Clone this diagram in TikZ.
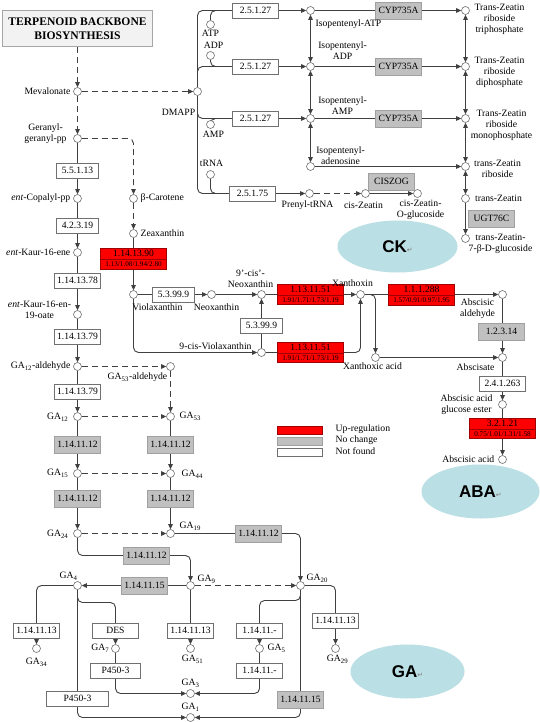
\documentclass[tikz,border=0pt]{standalone}
\usepackage{fontspec}
\setmainfont{Liberation Serif}
\newfontfamily\arialfont{Liberation Sans}
\newfontfamily\dejavu{DejaVu Sans}
\usetikzlibrary{arrows.meta,shapes.multipart,shapes.geometric}
\pgfdeclarelayer{bg}
\pgfsetlayers{bg,main}
\definecolor{lc}{HTML}{404040}
\definecolor{gbox}{HTML}{C0C0C0}
\definecolor{gbord}{HTML}{A0A0A0}
\definecolor{wbord}{HTML}{707070}
\definecolor{rfill}{HTML}{FF0000}
\definecolor{rbord}{HTML}{A00000}
\definecolor{ellc}{HTML}{BADFE4}
\newcommand{\smallred}{\fontsize{7.2}{8}\selectfont}
\newcommand{\elltxt}[1]{{\arialfont\bfseries\fontsize{17}{17}\selectfont #1}{\color{gray}\dejavu\fontsize{7}{7}\selectfont ↵}}
\tikzset{
 lbl/.style={font=\fontsize{9.7}{11}\selectfont, inner sep=1pt, align=center},
 met/.style={circle, draw=wbord, fill=white, minimum size=8pt, inner sep=0pt, line width=0.6pt},
 wbox/.style={draw=wbord, fill=white, minimum width=46pt, minimum height=15pt, inner sep=2pt, font=\fontsize{9.6}{11}\selectfont, line width=0.6pt},
 gboxs/.style={wbox, fill=gbox, draw=gbord, minimum height=17pt},
 rbox/.style={rectangle split, rectangle split parts=2, draw=rbord, fill=rfill, minimum width=66pt, inner xsep=1pt, inner ysep=2pt, font=\fontsize{9.6}{10}\selectfont, line width=0.6pt},
 ln/.style={draw=lc, line width=0.9pt},
 arr/.style={ln, -{Triangle[length=5pt,width=4.5pt]}},
 darr/.style={ln, {Triangle[length=5pt,width=4.5pt]}-{Triangle[length=5pt,width=4.5pt]}},
 dsh/.style={dash pattern=on 6pt off 4pt},
 rc/.style={rounded corners=5pt},
 ellip/.style={ellipse, fill=ellc, draw=none, inner sep=0pt},
 titlebox/.style={draw=gray!70, fill=gray!10, minimum width=150pt, minimum height=36pt, align=center, font=\bfseries\fontsize{11.6}{14}\selectfont},
 legbox/.style={minimum width=45pt, minimum height=8pt, inner sep=0pt, line width=0.6pt}
}
\begin{document}
\begin{tikzpicture}[x=1pt,y=-1pt]
\useasboundingbox (-0.5,-0.5) rectangle (539.5,721.5);
\begin{pgfonlayer}{bg}
\fill[white] (-0.5,-0.5) rectangle (539.5,721.5);
\end{pgfonlayer}

% ---------- title ----------
\node[titlebox] (tbb) at (77,28) {TERPENOID BACKBONE\\BIOSYNTHESIS};

% ---------- metabolites ----------
\node[met] (mev) at (77,91) {};
\node[met] (dmapp) at (197,91) {};
\node[met] (ggpp) at (77,138) {};
\node[met] (cop) at (77,198) {};
\node[met] (kaur) at (77,252) {};
\node[met] (kaoate) at (77,314) {};
\node[met] (ga12ald) at (77,366) {};
\node[met] (ga12) at (77,416) {};
\node[met] (ga15) at (77,473) {};
\node[met] (ga24) at (77,533) {};
\node[met] (ga53ald) at (170,366) {};
\node[met] (ga53) at (170,416) {};
\node[met] (ga44) at (170,473) {};
\node[met] (ga19) at (170,533) {};
\node[met] (ga4) at (77,585) {};
\node[met] (ga9) at (190,585) {};
\node[met] (ga20) at (300,585) {};
\node[met] (ga34) at (36,648) {};
\node[met] (ga7) at (115,648) {};
\node[met] (ga51) at (190,648) {};
\node[met] (ga5) at (259,648) {};
\node[met] (ga29) at (335,648) {};
\node[met] (ga3) at (190,693) {};
\node[met] (ga1) at (190,717) {};

\node[met] (bcar) at (133,198) {};
\node[met] (zea) at (133,233) {};
\node[met] (viol) at (133,294) {};
\node[met] (neo) at (211,294) {};
\node[met] (cneo) at (261,294) {};
\node[met] (cviol) at (261,352) {};
\node[met] (xan) at (360,294) {};
\node[met] (xacid) at (375,357) {};
\node[met] (absald) at (502,294) {};
\node[met] (absc) at (502,357) {};
\node[met] (abge) at (502,404) {};
\node[met] (aba) at (502,459) {};

\node[met] (atp) at (210,24) {};
\node[met] (adp) at (210,55) {};
\node[met] (amp) at (210,124) {};
\node[met] (trna) at (210,174) {};
\node[met] (ipatp) at (310,10) {};
\node[met] (ipadp) at (310,66) {};
\node[met] (ipamp) at (310,118) {};
\node[met] (ipado) at (310,166) {};
\node[met] (tztp) at (465,10) {};
\node[met] (tzdp) at (465,66) {};
\node[met] (tzmp) at (465,118) {};
\node[met] (tzr) at (465,166) {};
\node[met] (tz) at (465,198) {};
\node[met] (tzg) at (465,238) {};
\node[met] (ptrna) at (309,193) {};
\node[met] (cz) at (365,193) {};
\node[met] (czg) at (417,193) {};

% ---------- enzyme boxes ----------
\node[wbox] (e1) at (255,10) {2.5.1.27};
\node[wbox] (e2) at (255,66) {2.5.1.27};
\node[wbox] (e3) at (255,118) {2.5.1.27};
\node[wbox] (e4) at (252,193) {2.5.1.75};
\node[gboxs] (c1) at (398,10) {CYP735A};
\node[gboxs] (c2) at (398,66) {CYP735A};
\node[gboxs] (c3) at (398,118) {CYP735A};
\node[gboxs] (cis) at (391,181) {CISZOG};
\node[gboxs] (ugt) at (491,218) {UGT76C};

\node[wbox, minimum width=42pt] (k1) at (77,170) {5.5.1.13};
\node[wbox, minimum width=42pt] (k2) at (77,225) {4.2.3.19};
\node[wbox] (k3) at (77,280) {1.14.13.78};
\node[wbox] (k4) at (77,336) {1.14.13.79};
\node[wbox] (k5) at (77,391) {1.14.13.79};
\node[gboxs] (k6) at (77,444) {1.14.11.12};
\node[gboxs] (k7) at (170,444) {1.14.11.12};
\node[gboxs] (k8) at (77,498) {1.14.11.12};
\node[gboxs] (k9) at (170,498) {1.14.11.12};
\node[gboxs] (k10) at (258,533) {1.14.11.12};
\node[gboxs] (k11) at (146,555) {1.14.11.12};
\node[gboxs] (k12) at (144,585) {1.14.11.15};
\node[wbox] (k13) at (36,630) {1.14.11.13};
\node[wbox] (k14) at (115,630) {DES};
\node[wbox] (k15) at (190,630) {1.14.11.13};
\node[wbox] (k16) at (259,630) {1.14.11.-};
\node[wbox, minimum width=50pt] (k17) at (115,670) {P450-3};
\node[wbox] (k18) at (259,670) {1.14.11.-};
\node[wbox, minimum width=62pt] (k19) at (77,698) {P450-3};
\node[gboxs] (k20) at (300,699) {1.14.11.15};
\node[wbox] (k21) at (335,620) {1.14.11.13};

\node[rbox] (r1) at (133,258) {1.14.13.90\nodepart{two}\smallred 1.13/1.08/1.94/2.80};
\node[wbox, minimum width=42pt] (x1) at (173,294) {5.3.99.9};
\node[wbox, minimum width=42pt] (x2) at (261,325) {5.3.99.9};
\node[rbox] (r2) at (310,294) {1.13.11.51\nodepart{two}\smallred 1.91/1.71/1.73/1.19};
\node[rbox] (r3) at (310,352) {1.13.11.51\nodepart{two}\smallred 1.91/1.71/1.73/1.19};
\node[rbox] (r4) at (421,294) {1.1.1.288\nodepart{two}\smallred 1.57/0.91/0.97/1.95};
\node[gboxs] (x3) at (501,331) {1.2.3.14};
\node[wbox] (x4) at (502,383) {2.4.1.263};
\node[rbox] (r5) at (502,428) {3.2.1.21\nodepart{two}\smallred 0.75/1.01/1.31/1.58};

% ---------- ellipses ----------
\node[ellip, minimum width=120pt, minimum height=52pt] (ckell) at (397,246) {\elltxt{CK}};
\node[ellip, minimum width=118pt, minimum height=54pt] (abaell) at (480,491) {\elltxt{ABA}};
\node[ellip, minimum width=114pt, minimum height=54pt] (gaell) at (407,671) {\elltxt{GA}};

% ---------- legend ----------
\node[legbox, fill=rfill, draw=rbord] (lg1) at (299.5,430) {};
\node[legbox, fill=gbox, draw=gbord] (lg2) at (299.5,441) {};
\node[legbox, fill=white, draw=wbord] (lg3) at (299.5,451.5) {};
\node[lbl, anchor=west] (lgt1) at (334,429) {Up-regulation};
\node[lbl, anchor=west] (lgt2) at (334,440) {No change};
\node[lbl, anchor=west] (lgt3) at (334,451) {Not found};

% ---------- labels ----------
\node[lbl, anchor=east] (lmev) at (71,91) {Mevalonate};
\node[lbl] (ldmapp) at (178,112) {DMAPP};
\node[lbl] (lggpp) at (45,133) {Geranyl-\\geranyl-pp};
\node[lbl, anchor=east] (lcop) at (71,198) {\textit{ent}-Copalyl-pp};
\node[lbl, anchor=east] (lkaur) at (71,252) {\textit{ent}-Kaur-16-ene};
\node[lbl] (lkao) at (39,309) {\textit{ent}-Kaur-16-en-\\19-oate};
\node[lbl, anchor=east] (lga12a) at (71,366) {GA\textsubscript{12}-aldehyde};
\node[lbl] (lga53a) at (137,377) {GA\textsubscript{53}-aldehyde};
\node[lbl, anchor=east] (lga12) at (69,417) {GA\textsubscript{12}};
\node[lbl, anchor=west] (lga53) at (178,416) {GA\textsubscript{53}};
\node[lbl, anchor=east] (lga15) at (69,473) {GA\textsubscript{15}};
\node[lbl, anchor=west] (lga44) at (180,474) {GA\textsubscript{44}};
\node[lbl, anchor=east] (lga24) at (69,534) {GA\textsubscript{24}};
\node[lbl, anchor=west] (lga19) at (178,526) {GA\textsubscript{19}};
\node[lbl] (lga4) at (68,576) {GA\textsubscript{4}};
\node[lbl, anchor=west] (lga9) at (196,579) {GA\textsubscript{9}};
\node[lbl, anchor=west] (lga20) at (305,578) {GA\textsubscript{20}};
\node[lbl] (lga34) at (36,662) {GA\textsubscript{34}};
\node[lbl, anchor=east] (lga7) at (110,648) {GA\textsubscript{7}};
\node[lbl] (lga51) at (192,659) {GA\textsubscript{51}};
\node[lbl, anchor=west] (lga5) at (266,648) {GA\textsubscript{5}};
\node[lbl] (lga29) at (337,659) {GA\textsubscript{29}};
\node[lbl] (lga3) at (190,683) {GA\textsubscript{3}};
\node[lbl] (lga1) at (190,707) {GA\textsubscript{1}};

\node[lbl, anchor=west] (lbcar) at (139,198) {β-Carotene};
\node[lbl, anchor=west] (lzea) at (139,233) {Zeaxanthin};
\node[lbl] (lviol) at (157,307) {Violaxanthin};
\node[lbl] (lneo) at (216,307) {Neoxanthin};
\node[lbl] (lcneo) at (250,278) {9'-cis'-\\Neoxanthin};
\node[lbl] (lcviol) at (215,346) {9-cis-Violaxanthin};
\node[lbl] (lxan) at (352,283) {Xanthoxin};
\node[lbl] (lxacid) at (372,366) {Xanthoxic acid};
\node[lbl] (labsald) at (477,308) {Abscisic\\aldehyde};
\node[lbl] (labsc) at (475,367) {Abscisate};
\node[lbl] (labge) at (466,404) {Abscisic acid\\glucose ester};
\node[lbl, anchor=east] (laba) at (495,459) {Abscisic acid};

\node[lbl] (latp) at (210,33) {ATP};
\node[lbl] (ladp) at (213,45) {ADP};
\node[lbl] (lamp) at (213,134) {AMP};
\node[lbl] (ltrna) at (211,163) {tRNA};
\node[lbl] (lipatp) at (348,24) {Isopentenyl-ATP};
\node[lbl] (lipadp) at (342,50) {Isopentenyl-\\ADP};
\node[lbl] (lipamp) at (342,105) {Isopentenyl-\\AMP};
\node[lbl] (lipado) at (340,155) {Isopentenyl-\\adenosine};
\node[lbl] (ltztp) at (499,19) {Trans-Zeatin\\riboside\\triphosphate};
\node[lbl] (ltzdp) at (499,72) {Trans-Zeatin\\riboside\\diphosphate};
\node[lbl] (ltzmp) at (501,125) {Trans-Zeatin\\riboside\\monophosphate};
\node[lbl] (ltzr) at (497,168) {trans-Zeatin\\riboside};
\node[lbl] (ltz) at (498,198) {trans-Zeatin};
\node[lbl] (ltzg) at (500,243) {trans-Zeatin-\\7-β-D-glucoside};
\node[lbl] (lptrna) at (307,205) {Prenyl-tRNA};
\node[lbl] (lcz) at (363,205) {cis-Zeatin};
\node[lbl] (lczg) at (420,209) {cis-Zeatin-\\O-glucoside};

% ---------- connectors ----------
\begin{pgfonlayer}{bg}
\draw[arr,dsh] (tbb) -- (mev);
\draw[arr,dsh] (mev) -- (dmapp);
\draw[arr,dsh] (mev) -- (ggpp);
\draw[arr,dsh,rc] (ggpp) -| (bcar);
\draw[arr,dsh] (bcar) -- (zea);
\draw[arr] (zea) -- (viol);
\draw[arr] (ggpp) -- (cop);
\draw[arr] (cop) -- (kaur);
\draw[arr] (kaur) -- (kaoate);
\draw[arr] (kaoate) -- (ga12ald);
\draw[arr] (ga12ald) -- (ga12);
\draw[arr] (ga12) -- (ga15);
\draw[arr] (ga15) -- (ga24);
\draw[arr,dsh] (ga12ald) -- (ga53ald);
\draw[arr,dsh] (ga53ald) -- (ga53);
\draw[arr,dsh] (ga12) -- (ga53);
\draw[arr,dsh] (ga15) -- (ga44);
\draw[arr,dsh] (ga24) -- (ga19);
\draw[arr] (ga53) -- (ga44);
\draw[arr] (ga44) -- (ga19);
\draw[arr,rc] (ga19) -| (ga20);
\draw[arr,rc] (ga24) -- (77,555) -| (ga9);
\draw[arr] (ga9) -- (ga4);
\draw[arr,dsh] (ga9) -- (ga20);
\draw[arr] (ga9) -- (ga51);
\draw[arr,rc] (ga4) -| (ga34);
\draw[arr,rc] (ga4) -- (77,602) -| (ga7);
\draw[arr,rc] (ga4) |- (ga1);
\draw[arr,rc] (ga7) |- (ga3);
\draw[arr,rc] (ga20) -- (300,600) -| (ga5);
\draw[arr,rc] (ga5) |- (ga3);
\draw[arr,rc] (ga20) |- (ga1);
\draw[arr,rc] (ga20) -| (ga29);

\draw[arr] (viol) -- (neo);
\draw[arr] (neo) -- (cneo);
\draw[arr,rc] (viol) |- (cviol);
\draw[arr] (cviol) -- (cneo);
\draw[arr] (cneo) -- (xan);
\draw[arr,rc] (cviol) -| (xan);
\draw[arr] (xan) -- (absald);
\draw[arr,rc] (xan) -| (xacid);
\draw[arr] (xacid) -- (absc);
\draw[arr] (absald) -- (absc);
\draw[arr] (absc) -- (abge);
\draw[arr] (abge) -- (aba);

\draw[ln,rc] (e1.west) -| (dmapp.north);
\draw[ln,rc] (e2.west) -| (dmapp.north);
\draw[ln,rc] (e3.west) -| (dmapp.south);
\draw[ln,rc] (e4.west) -| (dmapp.south);
\draw[ln,rc] (atp) |- (e1.west);
\draw[ln,rc] (adp) |- (e2.west);
\draw[ln,rc] (amp) |- (e3.west);
\draw[ln,rc] (trna) |- (e4.west);
\draw[arr] (e1) -- (ipatp);
\draw[arr] (e2) -- (ipadp);
\draw[arr] (e3) -- (ipamp);
\draw[arr] (e4) -- (ptrna);
\draw[arr] (ipatp) -- (tztp);
\draw[arr] (ipadp) -- (tzdp);
\draw[arr] (ipamp) -- (tzmp);
\draw[arr] (ipado) -- (tzr);
\draw[darr] (ipatp) -- (ipadp);
\draw[darr] (ipadp) -- (ipamp);
\draw[darr] (ipamp) -- (ipado);
\draw[darr] (tztp) -- (tzdp);
\draw[darr] (tzdp) -- (tzmp);
\draw[darr] (tzmp) -- (tzr);
\draw[darr] (tzr) -- (tz);
\draw[arr] (tz) -- (tzg);
\draw[arr,dsh] (ptrna) -- (cz);
\draw[arr] (cz) -- (czg);
\end{pgfonlayer}
\end{tikzpicture}
\end{document}
